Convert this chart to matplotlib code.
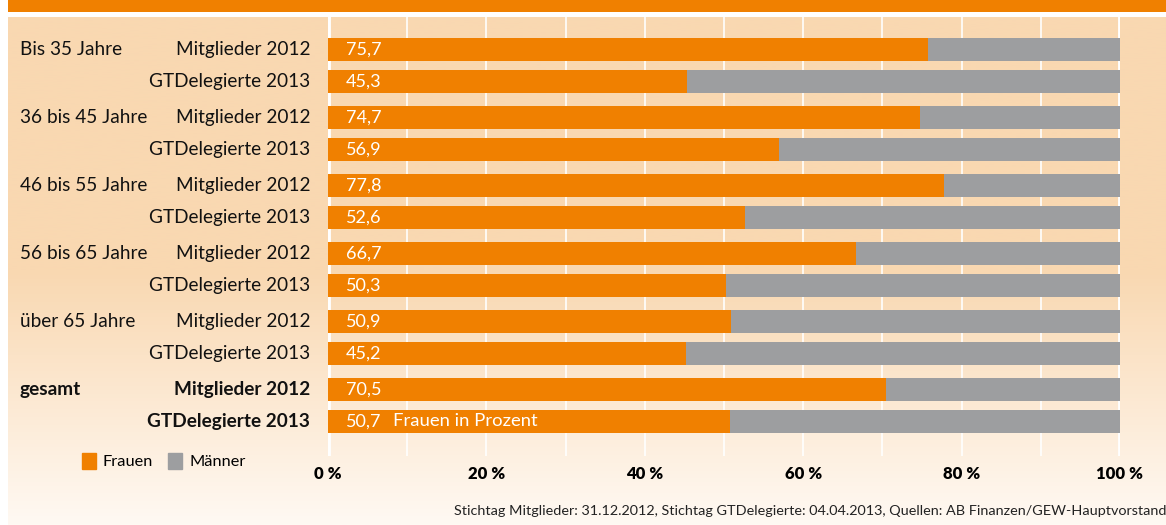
import numpy as np
import matplotlib
matplotlib.use("Agg")
import matplotlib.pyplot as plt
from matplotlib.patches import Patch, Rectangle
from matplotlib.transforms import blended_transform_factory

plt.rcParams['font.family'] = ['Lato', 'DejaVu Sans']

# data
groups = ['Bis 35 Jahre', '36 bis 45 Jahre', '46 bis 55 Jahre',
          '56 bis 65 Jahre', 'über 65 Jahre', 'gesamt']
rows = ['Mitglieder 2012', 'GTDelegierte 2013']
frauen_mitglieder = [75.7, 74.7, 77.8, 66.7, 50.9, 70.5]
frauen_delegierte = [45.3, 56.9, 52.6, 50.3, 45.2, 50.7]
ticks = [0, 20, 40, 60, 80, 100]
footnote = ('Stichtag Mitglieder: 31.12.2012, Stichtag GTDelegierte: 04.04.2013, '
            'Quellen: AB Finanzen/GEW-Hauptvorstand')

ORANGE = '#F08000'
GRAY = '#9D9EA0'
PEACH = np.array([249, 216, 177]) / 255
PALE = np.array([255, 249, 243]) / 255

W, H = 1166, 525
fig = plt.figure(figsize=(W / 100, H / 100), dpi=100)

# background: peach fading to white toward the bottom
bg = fig.add_axes([0, 0, 1, 1])
bg.set_xlim(0, W)
bg.set_ylim(H, 0)
bg.axis('off')
yy = np.linspace(0, 1, 300)
t = np.clip((yy - 0.5) / 0.5, 0, 1)
grad = PEACH[None, :] * (1 - t[:, None]) + PALE[None, :] * t[:, None]
bg.imshow(grad[:, None, :], extent=(8, W, H, 17), aspect='auto')
bg.add_patch(Rectangle((8, 0), W - 8, 12, color=ORANGE, lw=0))

# main chart
ax = fig.add_axes([328 / W, 1 - 456 / H, 792 / W, (456 - 17) / H])
ax.set_facecolor('none')
ax.set_xlim(0, 100)
step = 0.47
ax.set_ylim(len(groups) - 1 + 0.98, -0.48)

for x in range(10, 100, 10):
    ax.axvline(x, color='white', lw=1.2, zorder=1)
for x in (0, 100):
    ax.axvline(x, color='white', lw=3.5, zorder=1)

h = 0.34
for i, g in enumerate(groups):
    for j, vals in enumerate([frauen_mitglieder, frauen_delegierte]):
        y = i + j * step
        v = vals[i]
        ax.barh(y, v, height=h, color=ORANGE, zorder=2)
        ax.barh(y, 100 - v, left=v, height=h, color=GRAY, zorder=2)
        ax.text(2.3, y, f'{v:.1f}'.replace('.', ','), color='white',
                fontsize=13, va='center', ha='left', zorder=3)

ax.text(8.2, len(groups) - 1 + step, 'Frauen in Prozent', color='white',
        fontsize=13.3, va='center', ha='left', zorder=3)

trans = blended_transform_factory(fig.transFigure, ax.transData)
for i, g in enumerate(groups):
    weight = 'bold' if i == len(groups) - 1 else 'normal'
    ax.text(20 / W, i, g, transform=trans, fontsize=13.7, va='center',
            ha='left', fontweight=weight, color='#111111')
    for j, r in enumerate(rows):
        ax.text(310 / W, i + j * step, r, transform=trans, fontsize=13.7,
                va='center', ha='right', fontweight=weight, color='#111111')

ax.set_yticks([])
ax.set_xticks(ticks)
ax.set_xticklabels([f'{v} %' for v in ticks], fontweight='heavy', fontsize=12)
ax.tick_params(axis='x', length=0, pad=7)
for s in ax.spines.values():
    s.set_visible(False)

handles = [Patch(color=ORANGE, label='Frauen'), Patch(color=GRAY, label='Männer')]
fig.legend(handles=handles, loc='center left', bbox_to_anchor=(82 / W, 1 - 461 / H),
           ncol=2, frameon=False, fontsize=11.8, handlelength=0.85, handleheight=1.2,
           handletextpad=0.43, columnspacing=0.9, borderpad=0, borderaxespad=0)

fig.text(454 / W, 1 - 511 / H, footnote, fontsize=10.4, va='center', ha='left',
         color='#222222')

fig.savefig('out.png', dpi=100)
